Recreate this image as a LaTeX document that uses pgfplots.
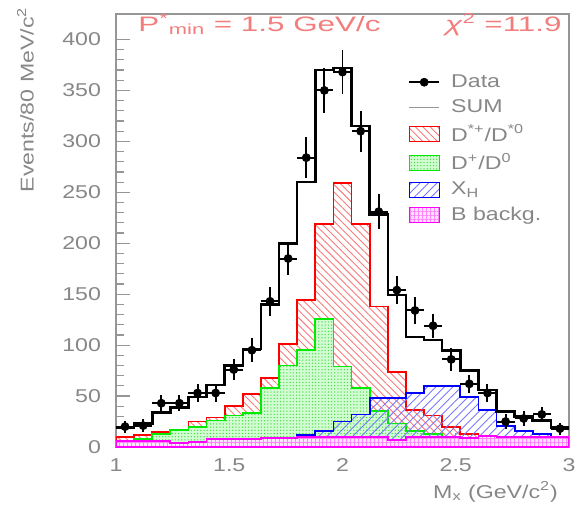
\documentclass[border=0pt]{standalone}
\usepackage{pgfplots}
\pgfplotsset{compat=1.18}
\usepackage{pgfplotstable}
\usetikzlibrary{patterns,patterns.meta}
\usepackage{fontspec}
\setmainfont{Liberation Sans}[FakeStretch=1.25]
\newfontfamily\titlefont{Liberation Sans}[FakeStretch=1.5]

\definecolor{axisgray}{RGB}{150,150,150}
\definecolor{txtgray}{RGB}{135,135,135}
\definecolor{titlered}{RGB}{242,125,125}
\definecolor{hred}{RGB}{255,0,0}
\definecolor{hatchred}{RGB}{250,120,120}
\definecolor{hgreen}{RGB}{0,235,0}
\definecolor{greendot}{RGB}{60,225,60}
\definecolor{greenfill}{RGB}{210,252,210}
\definecolor{hblue}{RGB}{0,0,255}
\definecolor{hatchblue}{RGB}{120,120,255}
\definecolor{hpink}{RGB}{255,0,255}
\definecolor{pinkhatch}{RGB}{255,130,255}
\definecolor{pinkfill}{RGB}{255,228,255}

% histogram bins (left edges, last row repeats the last bin)
\pgfplotstableread{
e    sum  red  green blue pink
1.00 19   10   6     2    6
1.08 23   12   8     2    6
1.16 34   15   13    2    6
1.24 39   15   17    2    4
1.32 49   25   20    2    5
1.40 61   29   26    2    7.5
1.48 80   40   31    3    7.5
1.56 96   52   33    3    7.5
1.64 140  68   58    3    8.5
1.72 200  101  80    5    8.5
1.80 260  144  95    12   10
1.88 370  219  126   16   10
1.96 372  259  79    25   10
2.04 315  219  58    32   10
2.12 228  138  35    48   10
2.20 149  74   23    48   7
2.28 108  36   16    53   9.5
2.36 105  31   13    60   10
2.44 95   20   10    60   10
2.52 75   13   7     49   9
2.60 56   11   5     36   10.5
2.68 35   8    4     21   9.5
2.76 30   6    3     16   9.5
2.84 26   5    3     13   9.5
2.92 19   4    2     10   9.5
3.00 19   4    2     10   9.5
}\hist

% data points (bin centres)
\pgfplotstableread{
x    y    ey  ex
1.04 20   6   0.04
1.12 21   6   0.04
1.20 43   8   0.04
1.28 43   8   0.04
1.36 53   9   0.04
1.44 53   9   0.04
1.52 76   10  0.04
1.60 95   12  0.04
1.68 143  14  0.04
1.76 185  16  0.04
1.84 284  20  0.04
1.92 350  22  0.04
2.00 368  22  0.04
2.08 310  20  0.04
2.16 231  17  0.04
2.24 154  14  0.04
2.32 134  13  0.04
2.40 119  12  0.04
2.48 86   11  0.04
2.56 62   9   0.04
2.64 53   9   0.04
2.72 25   7   0.04
2.80 28   7   0.04
2.88 32   7   0.04
2.96 18   6   0.04
}\data

\pgfplotsset{
  boxleg/.style={legend image code/.code={\draw[##1] (0bp,-3.75bp) rectangle (15bp,3.75bp);}},
}

\begin{document}
\begin{tikzpicture}
\begin{axis}[
  name=ax,
  scale only axis, width=226.5bp, height=216.5bp,
  xmin=1, xmax=3, ymin=0, ymax=425,
  xtick={1,1.5,2,2.5,3}, ytick={0,50,...,400},
  minor y tick num=4, minor x tick num=4,
  tick align=inside, tick pos=left,
  major tick length=7bp, minor tick length=4bp,
  axis line style={axisgray, line width=0.8pt},
  every tick/.style={axisgray, line width=0.6pt},
  ticklabel style={text=txtgray, font=\fontsize{9.3}{11}\selectfont},
  /pgf/number format/assume math mode=true,
  xticklabel style={yshift=-2.5bp},
  yticklabel style={xshift=-4bp},
  xlabel={M\textsubscript{x} (GeV/c\textsuperscript{2})},
  ylabel={Events/80 MeV/c\textsuperscript{2}},
  xlabel style={at={(axis description cs:0.991,-0.104)}, anchor=east, text=txtgray, font=\fontsize{9.3}{11}\selectfont},
  ylabel style={at={(axis description cs:-0.2,1.032)}, anchor=east, text=txtgray, font=\fontsize{9.3}{11}\selectfont},
  legend style={at={(axis cs:2.262,373)}, anchor=north west, draw=none, fill=none,
    font=\fontsize{9.3}{11}\selectfont, text=txtgray, row sep=1.6pt, column sep=4bp,
    nodes={inner sep=1.5pt}},
  legend cell align=left,
]
\addlegendimage{legend image code/.code={\draw[black,line width=1pt] (0bp,0bp)--(15bp,0bp); \fill[black] (7.5bp,0bp) circle (2bp);}}
\addlegendentry{Data}
\addlegendimage{legend image code/.code={\draw[axisgray,line width=0.5pt] (0bp,0bp)--(15bp,0bp);}}
\addlegendentry{SUM}
\addlegendimage{boxleg, draw=hred, line width=0.5pt, pattern={Lines[angle=-45,distance=2.6pt,line width=0.45pt]}, pattern color=hatchred}
\addlegendentry{D\textsuperscript{*+}/D\textsuperscript{*0}}
\addlegendimage{boxleg, draw=hgreen, line width=0.5pt, fill=greenfill, postaction={pattern={Dots[distance=1.6pt,radius=0.35pt]}, pattern color=greendot}}
\addlegendentry{D\textsuperscript{+}/D\textsuperscript{0}}
\addlegendimage{boxleg, draw=hblue, line width=0.5pt, pattern={Lines[angle=45,distance=3pt,line width=0.45pt]}, pattern color=hatchblue}
\addlegendentry{X\textsubscript{H}}
\addlegendimage{boxleg, draw=hpink, line width=0.5pt, fill=pinkfill, postaction={pattern={Hatch[angle=0,distance=2pt,line width=0.3pt]}, pattern color=pinkhatch}}
\addlegendentry{B backg.}

\addplot[forget plot, const plot, draw=hred, line width=0.9pt,
  pattern={Lines[angle=-45,distance=2.6pt,line width=0.45pt]}, pattern color=hatchred]
  table[x=e, y=red] {\hist} \closedcycle;
\addplot[forget plot, const plot, draw=hgreen, line width=0.9pt, fill=greenfill,
  postaction={pattern={Dots[distance=1.6pt,radius=0.35pt]}, pattern color=greendot}]
  table[x=e, y=green] {\hist} \closedcycle;
\addplot[forget plot, const plot, draw=hblue, line width=0.9pt,
  pattern={Lines[angle=45,distance=3pt,line width=0.45pt]}, pattern color=hatchblue]
  table[x=e, y=blue] {\hist} \closedcycle;
\addplot[forget plot, const plot, draw=hpink, line width=0.9pt, fill=pinkfill,
  postaction={pattern={Hatch[angle=0,distance=2pt,line width=0.3pt]}, pattern color=pinkhatch}]
  table[x=e, y=pink] {\hist} \closedcycle;
\addplot[forget plot, const plot, black, line width=1.3pt]
  table[x=e, y=sum] {\hist};
\addplot[forget plot, only marks, mark=*, mark size=2bp, black,
  error bars/.cd, y dir=both, y explicit, x dir=both, x explicit,
  error mark=none, error bar style={line width=1pt, black}]
  table[x=x, y=y, y error=ey, x error=ex] {\data};

\node[anchor=west, inner sep=0pt, text=titlered, font=\titlefont\fontsize{10.5}{12}\selectfont]
  at (axis cs:1.097,415) {P\textsuperscript{*}\textsubscript{min} = 1.5 GeV/c};
\node[anchor=east, inner sep=0pt, text=titlered, font=\titlefont\fontsize{10.5}{12}\selectfont]
  at (axis cs:2.969,415) {\textit{χ}\textsuperscript{2} =11.9};
\end{axis}
\pgfresetboundingbox
\path[use as bounding box] ([xshift=-58bp,yshift=-31.5bp]ax.south west) rectangle ([xshift=5bp,yshift=7bp]ax.north east);
\end{tikzpicture}
\end{document}
